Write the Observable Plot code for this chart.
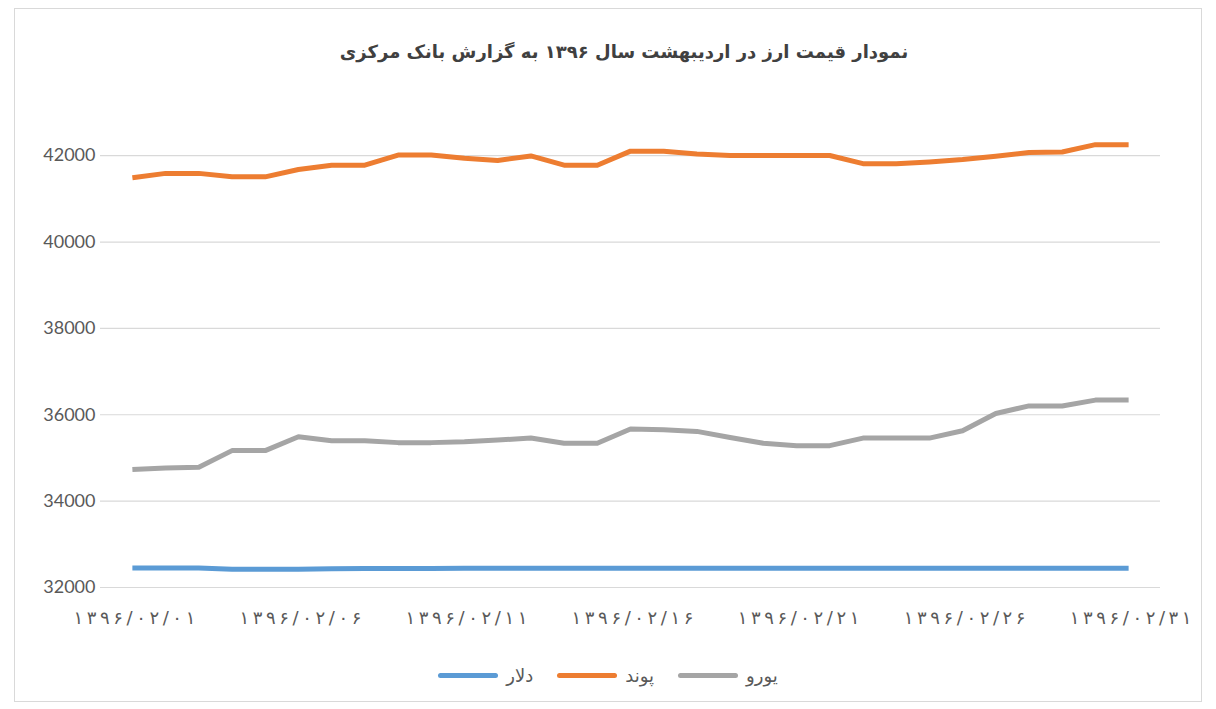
<!DOCTYPE html>
<html>
<head>
<meta charset="utf-8">
<script src="https://cdn.jsdelivr.net/npm/d3@7"></script>
<script src="https://cdn.jsdelivr.net/npm/@observablehq/plot@0.6"></script>
<style>
  html, body { margin: 0; padding: 0; background: #fff; }
  body { width: 1216px; height: 709px; position: relative; overflow: hidden; font-family: Lato, "DejaVu Sans", sans-serif; }
  #frame { position: absolute; left: 14px; top: 8px; width: 1188px; height: 694px; border: 1px solid #d9d9d9; box-sizing: border-box; }
  #title { position: absolute; left: 16px; top: 41px; width: 1216px; text-align: center; font-family: "DejaVu Sans", sans-serif; font-weight: bold; font-size: 18px; color: #404040; direction: rtl; }
  #chart { position: absolute; left: 0; top: 90px; }
  #legend { position: absolute; left: 0; top: 665px; width: 1216px; display: flex; justify-content: center; align-items: center; gap: 0; font-family: "DejaVu Sans", sans-serif; font-size: 18px; color: #595959; }
  .item { display: flex; align-items: center; margin: 0 12px; }
  .sw { width: 60px; height: 5px; border-radius: 3px; margin-right: 8px; }
</style>
</head>
<body>
<div id="frame"></div>
<div id="title"></div>
<div id="chart"></div>
<div id="legend"></div>
<script>
const titleText = "نمودار قیمت ارز در اردیبهشت سال ۱۳۹۶ به گزارش بانک مرکزی";
const days = [1,2,3,4,5,6,7,8,9,10,11,12,13,14,15,16,17,18,19,20,21,22,23,24,25,26,27,28,29,30,31];
const seriesNames = ["دلار", "پوند", "یورو"];
const seriesColors = ["#5B9BD5", "#ED7D31", "#A5A5A5"];
const dollar = [32450,32450,32450,32420,32420,32420,32435,32440,32440,32440,32445,32445,32445,32445,32445,32445,32445,32445,32445,32445,32445,32445,32445,32445,32445,32445,32445,32445,32445,32445,32445];
const pound  = [41490,41590,41590,41510,41510,41680,41780,41780,42015,42015,41940,41890,41995,41780,41780,42105,42100,42040,42005,42005,42005,42005,41815,41815,41855,41910,41985,42075,42085,42255,42255];
const euro   = [34730,34770,34785,35170,35170,35490,35400,35400,35355,35355,35375,35415,35460,35340,35340,35670,35655,35615,35475,35340,35285,35285,35460,35460,35460,35630,36030,36205,36205,36340,36340];
const yTicks = [32000, 34000, 36000, 38000, 40000, 42000];
const xTickDays = [1, 6, 11, 16, 21, 26, 31];
const xTickLabels = ["۱۳۹۶/۰۲/۰۱", "۱۳۹۶/۰۲/۰۶", "۱۳۹۶/۰۲/۱۱", "۱۳۹۶/۰۲/۱۶", "۱۳۹۶/۰۲/۲۱", "۱۳۹۶/۰۲/۲۶", "۱۳۹۶/۰۲/۳۱"];

document.getElementById("title").textContent = titleText;

const values = [dollar, pound, euro];
const rows = [];
values.forEach((arr, si) => arr.forEach((v, i) => rows.push({day: days[i], value: v, series: seriesNames[si]})));

const spaced = s => s.split("").join("\u2009");

const chart = Plot.plot({
  width: 1216,
  height: 560,
  marginLeft: 100,
  marginRight: 56,
  marginTop: 22,
  marginBottom: 63,
  style: {fontSize: "18px", fontFamily: "Lato, 'DejaVu Sans', sans-serif", color: "#595959", background: "transparent"},
  x: {domain: [0.04, 31.96]},
  y: {domain: [32000, 43000]},
  color: {domain: seriesNames, range: seriesColors},
  marks: [
    Plot.gridY(yTicks, {stroke: "#d9d9d9", strokeOpacity: 1, strokeWidth: 1.2}),
    Plot.axisY(yTicks, {tickSize: 0, tickPadding: 5, tickFormat: d => String(d), label: null, fill: "#595959", fontSize: 18}),
    Plot.axisX(xTickDays, {tickSize: 0, tickPadding: 24, dx: 2, tickFormat: d => spaced(xTickLabels[xTickDays.indexOf(d)]), label: null, fill: "#595959", fontSize: 18, fontFamily: "'DejaVu Sans', sans-serif"}),
    Plot.line(rows, {x: "day", y: "value", z: "series", stroke: "series", strokeWidth: 5, strokeLinejoin: "round", strokeLinecap: "butt"})
  ]
});
document.getElementById("chart").appendChild(chart);

const legend = document.getElementById("legend");
seriesNames.forEach((n, i) => {
  const it = document.createElement("div");
  it.className = "item";
  const sw = document.createElement("div");
  sw.className = "sw";
  sw.style.background = seriesColors[i];
  const tx = document.createElement("span");
  tx.textContent = n;
  it.appendChild(sw);
  it.appendChild(tx);
  legend.appendChild(it);
});
</script>
</body>
</html>
